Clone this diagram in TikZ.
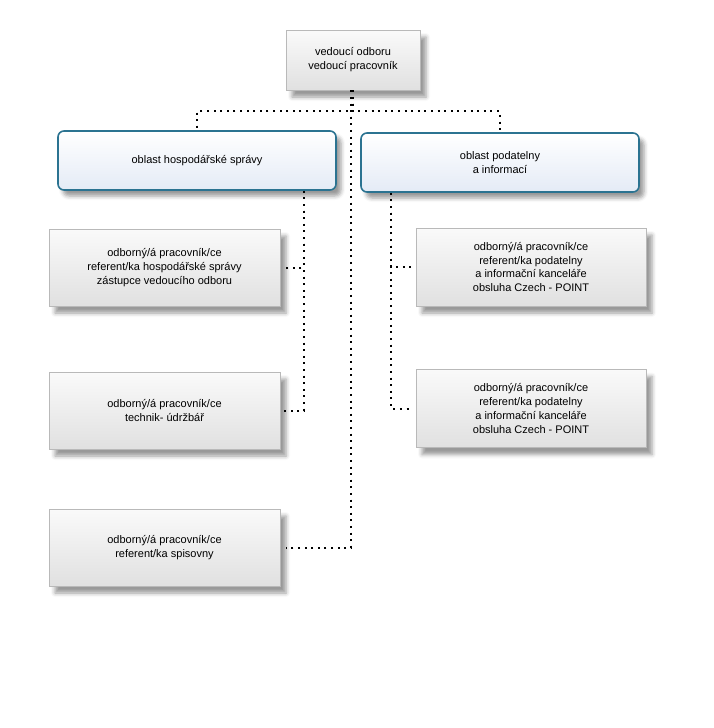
\documentclass[tikz,border=0pt]{standalone}
\usepackage{fontspec}
\setmainfont{Liberation Sans}
\usetikzlibrary{shadows.blur,calc}
\definecolor{areaborder}{HTML}{2B7391}
\definecolor{areafill}{HTML}{E4EBF6}
\tikzset{
  graybox/.style={draw=gray!55, line width=0.6pt, top color=white!96!gray, bottom color=gray!24,
    minimum width=231pt, minimum height=77pt, align=center, inner sep=2pt,
    blur shadow={shadow xshift=6pt, shadow yshift=-7pt, shadow blur radius=4pt, shadow opacity=40},
    font=\fontsize{11}{14}\selectfont},
  areabox/.style={draw=areaborder, line width=1.6pt, rounded corners=6pt, top color=white, bottom color=areafill,
    minimum width=278pt, minimum height=59pt, align=center, inner sep=2pt,
    blur shadow={shadow xshift=5pt, shadow yshift=-6pt, shadow blur radius=4pt, shadow opacity=40},
    font=\fontsize{11}{14}\selectfont},
  dotline/.style={line width=2pt, dash pattern=on 2pt off 4.6pt, black}
}
\begin{document}
\begin{tikzpicture}[x=1pt,y=-1pt]
\useasboundingbox (0,0) rectangle (713,728);
\node[graybox, minimum width=134pt, minimum height=60pt] (T) at (353,60) {vedoucí odboru\\vedoucí pracovník};
\node[areabox] (L) at (197,160.5) {oblast hospodářské správy};
\node[areabox] (R) at (500,162.5) {oblast podatelny\\a informací};
\node[graybox] (L1) at (164.5,267.5) {odborný/á pracovník/ce\\referent/ka hospodářské správy\\zástupce vedoucího odboru};
\node[graybox] (L2) at (164.5,410.5) {odborný/á pracovník/ce\\technik- údržbář};
\node[graybox] (L3) at (164.5,547.5) {odborný/á pracovník/ce\\referent/ka spisovny};
\node[graybox, minimum width=230pt, minimum height=78pt] (R1) at (531,267) {odborný/á pracovník/ce\\referent/ka podatelny\\a informační kanceláře\\obsluha Czech - POINT};
\node[graybox, minimum width=230pt, minimum height=78pt] (R2) at (531,408.5) {odborný/á pracovník/ce\\referent/ka podatelny\\a informační kanceláře\\obsluha Czech - POINT};
\coordinate (la) at ([xshift=-33pt]L.south east);
\coordinate (ra) at ([xshift=31pt]R.south west);
\draw[dotline] (T.south) -- ++(0,21) -| (L.north);
\draw[dotline] (T.south) -- ++(0,21) -| (R.north);
\draw[dotline, shorten >=6pt] ([xshift=-2pt]T.south) |- (L3.east);
\draw[dotline, shorten >=3pt] (la) |- (L1.east);
\draw[dotline, shorten >=3pt] (la) |- (L2.east);
\draw[dotline, shorten >=3pt] (ra) |- (R1.west);
\draw[dotline, shorten >=3pt] (ra) |- (R2.west);
\end{tikzpicture}
\end{document}
